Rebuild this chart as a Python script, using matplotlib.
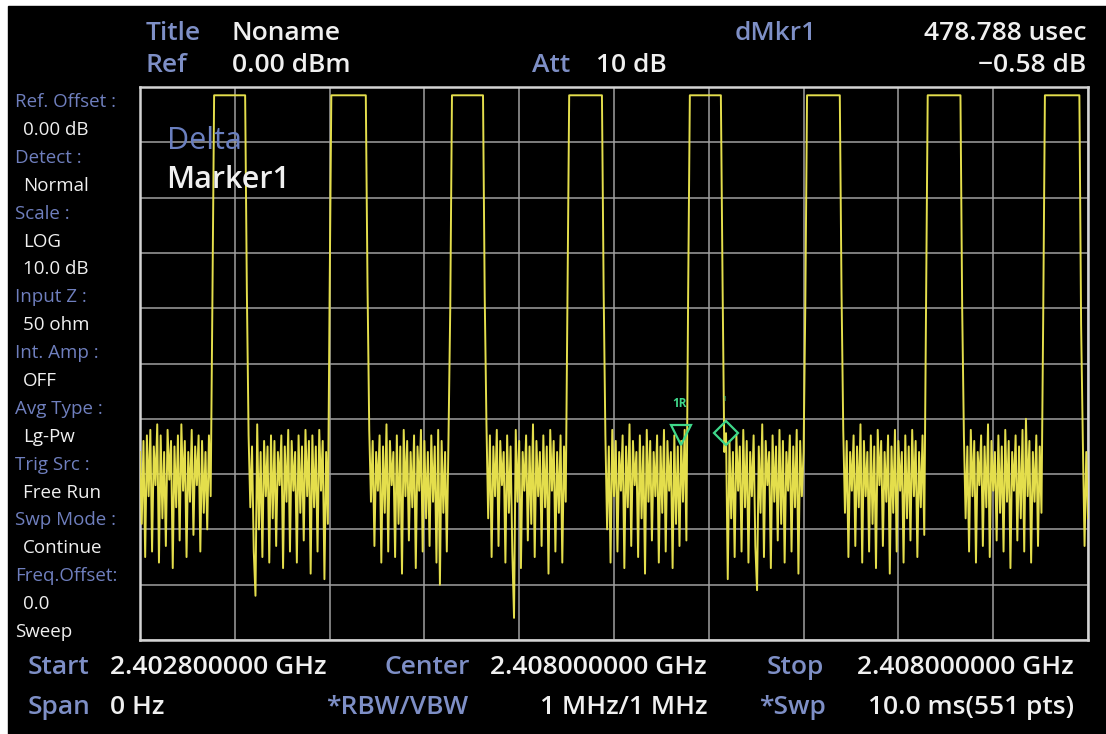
"""Spectrum analyser zero-span screen: pulsed 2.408 GHz burst, delta marker."""

import numpy as np
import matplotlib
matplotlib.use("Agg")
import matplotlib.pyplot as plt
from matplotlib.patches import Rectangle

plt.rcParams["font.family"] = ["Open Sans", "DejaVu Sans"]

W, H = 1106, 734                  # output size in px (dpi 100)
BLUE = "#7e8fc6"
DIM_BLUE = "#6f7fbe"
WHITE = "#f0f0f0"
TRACE = "#e4de4c"
MARK = "#3fd88a"

# ──────────────────────────────────────────────────────────────────────────
# Trace, dBm, 551 sweep points over 10 ms
# ──────────────────────────────────────────────────────────────────────────
noise_0 = [-66, -79, -64, -85, -63, -74, -62, -84, -65, -72,
           -61, -86, -63, -78, -66, -83, -62, -71, -64, -87,
           -65, -76, -63, -82, -61, -73, -64, -85, -66, -75,
           -62, -81, -65, -72, -63, -84, -64, -77, -66, -80,
           -63, -74]
pulse_1 = [-39,
           -1.5, -1.5, -1.5, -1.5, -1.5, -1.5, -1.5, -1.5, -1.5, -1.5,
           -1.5, -1.5, -1.5, -1.5, -1.5, -1.5, -1.5, -1.5, -1.5,
           -37]
noise_1 = [-63, -76, -65, -84, -92, -61, -80, -66, -85, -64,
           -74, -65, -86, -63, -78, -64, -83, -66, -72, -63,
           -87, -65, -75, -62, -84, -64, -73, -66, -86, -63,
           -77, -65, -82, -62, -74, -64, -88, -63, -76, -65,
           -84, -62, -73, -64, -89, -66, -79]
pulse_2 = [-38,
           -1.5, -1.5, -1.5, -1.5, -1.5, -1.5, -1.5, -1.5, -1.5, -1.5,
           -1.5, -1.5, -1.5, -1.5, -1.5, -1.5, -1.5, -1.5, -1.5, -1.5, -1.5,
           -36]
noise_2 = [-62, -75, -64, -83, -66, -73, -63, -86, -65, -77,
           -61, -84, -64, -72, -66, -85, -63, -79, -65, -88,
           -62, -74, -64, -82, -66, -76, -63, -87, -65, -73,
           -62, -84, -64, -78, -66, -83, -63, -75, -65, -86,
           -62, -90, -64, -77, -66, -84, -63]
pulse_3 = [-40,
           -1.5, -1.5, -1.5, -1.5, -1.5, -1.5, -1.5, -1.5, -1.5, -1.5,
           -1.5, -1.5, -1.5, -1.5, -1.5, -1.5, -1.5, -1.5, -1.5,
           -38]
noise_3 = [-61, -78, -63, -85, -65, -74, -62, -83, -64, -72,
           -66, -86, -63, -77, -65, -84, -96, -62, -75, -64,
           -87, -66, -73, -63, -82, -65, -79, -61, -85, -64,
           -74, -66, -83, -63, -76, -65, -88, -62, -73, -64,
           -84, -66, -77, -63, -86, -65, -75]
pulse_4 = [-39,
           -1.5, -1.5, -1.5, -1.5, -1.5, -1.5, -1.5, -1.5, -1.5, -1.5,
           -1.5, -1.5, -1.5, -1.5, -1.5, -1.5, -1.5, -1.5, -1.5, -1.5,
           -37]
noise_4 = [-63, -80, -65, -86, -62, -74, -64, -84, -66, -73,
           -63, -87, -65, -76, -61, -83, -64, -72, -66, -85,
           -63, -78, -65, -88, -62, -75, -64, -82, -66, -74,
           -63, -86, -65, -77, -62, -84, -64, -73, -66, -87,
           -63, -79, -65, -83, -64, -75, -62, -82]
pulse_5 = [-38,
           -1.5, -1.5, -1.5, -1.5, -1.5, -1.5, -1.5, -1.5, -1.5, -1.5,
           -1.5, -1.5, -1.5, -1.5, -1.5, -1.5, -1.5, -1.5, -1.5,
           -36]
noise_5 = [-66, -62.6, -89, -64, -78, -66, -85, -63, -73, -65,
           -84, -62, -76, -64, -86, -66, -74, -63, -83, -91,
           -65, -77, -61, -85, -64, -72, -66, -87, -63, -75,
           -65, -82, -62, -79, -64, -86, -66, -73, -63, -84,
           -65, -76, -62, -88, -64, -74, -66]
pulse_6 = [-39,
           -1.5, -1.5, -1.5, -1.5, -1.5, -1.5, -1.5, -1.5, -1.5, -1.5,
           -1.5, -1.5, -1.5, -1.5, -1.5, -1.5, -1.5, -1.5, -1.5, -1.5,
           -37]
noise_6 = [-62, -77, -64, -85, -66, -73, -63, -83, -65, -76,
           -61, -86, -64, -74, -66, -84, -63, -79, -65, -87,
           -62, -72, -64, -83, -66, -75, -63, -88, -65, -77,
           -62, -84, -64, -73, -66, -86, -63, -78, -65, -82,
           -62, -74, -64, -85, -66, -76, -63, -81]
pulse_7 = [-40,
           -1.5, -1.5, -1.5, -1.5, -1.5, -1.5, -1.5, -1.5, -1.5, -1.5,
           -1.5, -1.5, -1.5, -1.5, -1.5, -1.5, -1.5, -1.5, -1.5, -1.5,
           -40]
noise_7 = [-63, -78, -65, -84, -62, -74, -64, -86, -66, -72,
           -63, -83, -65, -76, -61, -85, -64, -73, -66, -82,
           -63, -77, -65, -84, -62, -75, -64, -87, -66, -73,
           -63, -82, -65, -78, -62, -84, -60, -74, -64, -86,
           -66, -75, -63, -83, -65, -77]
pulse_8 = [-42,
           -1.5, -1.5, -1.5, -1.5, -1.5, -1.5, -1.5, -1.5, -1.5, -1.5,
           -1.5, -1.5, -1.5, -1.5, -1.5, -1.5, -1.5, -1.5, -1.5, -1.5, -1.5,
           -43]
noise_8 = [-64, -83, -66, -78]

sweep_ms = 10.0
ref_db, db_per_div = 0.0, 10.0
ref_idx, mkr_idx = 314, 340       # marker 1R / delta marker 1 (sweep points)

# ──────────────────────────────────────────────────────────────────────────
# Screen annotations
# ──────────────────────────────────────────────────────────────────────────
side_labels = ["Ref. Offset :", "Detect :", "Scale :", "", "Input Z :",
               "Int. Amp :", "Avg Type :", "Trig Src :", "Swp Mode :",
               "Freq.Offset:"]
side_values = ["0.00 dB", "Normal", "LOG", "10.0 dB", "50 ohm", "OFF",
               "Lg-Pw", "Free Run", "Continue", "0.0"]


def px(x, y):
    """Screen pixel -> figure fraction."""
    return x / W, 1 - y / H


def label(x, y, s, color=WHITE, size=19, ha="left", weight="semibold"):
    fig.text(*px(x, y), s, color=color, fontsize=size, ha=ha, va="center",
             fontweight=weight)


trace = np.concatenate([noise_0, pulse_1, noise_1, pulse_2, noise_2, pulse_3,
                        noise_3, pulse_4, noise_4, pulse_5, noise_5, pulse_6,
                        noise_6, pulse_7, noise_7, pulse_8, noise_8])
time_ms = np.linspace(0, sweep_ms, trace.size)

fig = plt.figure(figsize=(W / 100, H / 100), dpi=100, facecolor="white")
fig.add_artist(Rectangle((8 / W, 0), 1 - 8 / W, 1 - 6 / H,
                         transform=fig.transFigure, color="black", zorder=0))

ax = fig.add_axes([140 / W, 1 - 640 / H, 948 / W, 553 / H], facecolor="black")
ax.set_xlim(0, sweep_ms)
ax.set_ylim(ref_db - 10 * db_per_div, ref_db)
ax.set_xticks(np.linspace(0, sweep_ms, 11))
ax.set_yticks(np.linspace(ref_db - 10 * db_per_div, ref_db, 11))
ax.tick_params(length=0, labelbottom=False, labelleft=False)
ax.grid(True, color="#a0a0a0", lw=1.1)
for s in ax.spines.values():
    s.set_color("#d4d4d4")
    s.set_linewidth(1.8)

ax.plot(time_ms, trace, color=TRACE, lw=1.4, zorder=3)

# delta marker pair
ax.plot(time_ms[ref_idx], trace[ref_idx] + 1.0, marker="v", ms=14, mfc="none",
        mec=MARK, mew=1.6, zorder=4)
ax.plot(time_ms[mkr_idx], trace[mkr_idx], marker="D", ms=12, mfc="none",
        mec=MARK, mew=1.6, zorder=4)
ax.annotate("1R", (time_ms[ref_idx], trace[ref_idx]), xytext=(-1, 27),
            textcoords="offset points", ha="center", va="center",
            color=MARK, fontsize=8.5, fontweight="bold")
ax.annotate("1", (time_ms[mkr_idx], trace[mkr_idx]), xytext=(-1, 24),
            textcoords="offset points", ha="center", va="center",
            color=MARK, fontsize=5)

ax.text(0.028, 0.887, "Delta", transform=ax.transAxes, color="#6a7fbf",
        fontsize=22, va="baseline")
ax.text(0.028, 0.8165, "Marker1", transform=ax.transAxes, color=WHITE,
        fontsize=22, va="baseline", fontweight="semibold")

# header rows
label(146, 33, "Title", BLUE)
label(232, 33, "Noname")
label(146, 66, "Ref", BLUE)
label(232, 66, "0.00 dBm")
label(532, 66, "Att", BLUE)
label(596, 66, "10 dB")
label(735, 33, "dMkr1", BLUE)
label(1086, 33, "478.788 usec", ha="right")
label(1086, 66, "\u22120.58 dB", ha="right")

# footer rows
label(28, 667, "Start", BLUE)
label(110, 667, "2.402800000 GHz")
label(384, 667, "Center", BLUE)
label(490, 667, "2.408000000 GHz")
label(767, 667, "Stop", BLUE)
label(1074, 667, "2.408000000 GHz", ha="right")
label(28, 708, "Span", BLUE)
label(110, 708, "0 Hz")
label(468, 708, "*RBW/VBW", BLUE, ha="right")
label(708, 708, "1 MHz/1 MHz", ha="right")
label(826, 708, "*Swp", BLUE, ha="right")
label(1074, 708, "10.0 ms(551 pts)", ha="right")

# left settings column
y = 102
for lab, val in zip(side_labels, side_values):
    if lab:
        label(15, y, lab, DIM_BLUE, size=13.5, weight="normal")
        y += 27.9
    label(23, y, val, size=13.5, weight="normal")
    y += 27.9
label(15, y, "Sweep", size=13.5, weight="normal")

fig.savefig("out.png", dpi=100, facecolor=fig.get_facecolor())
